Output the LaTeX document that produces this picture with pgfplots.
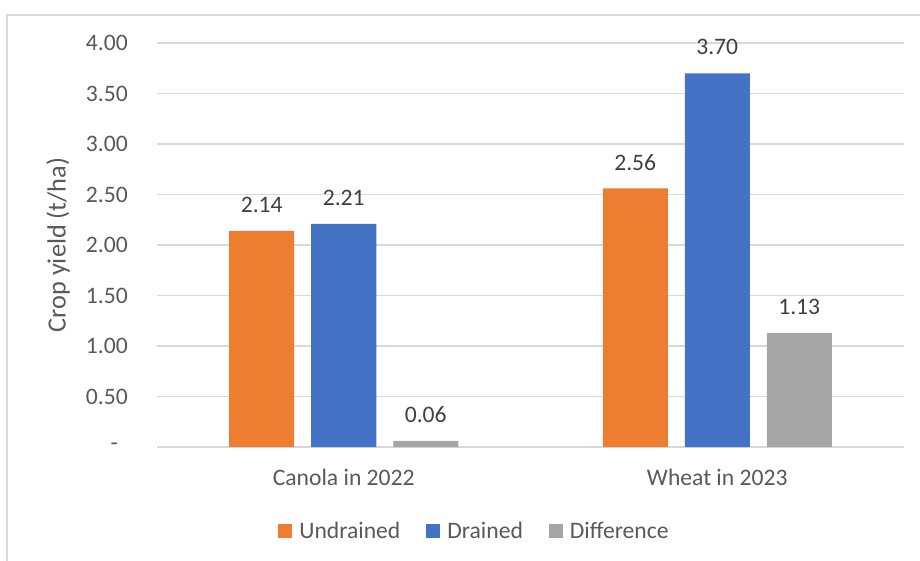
\documentclass[border=0pt]{standalone}
\usepackage{pgfplots}
\pgfplotsset{compat=1.18}
\usepackage{fontspec}
\setmainfont{Carlito}
\definecolor{orng}{HTML}{ED7D31}
\definecolor{blu}{HTML}{4472C4}
\definecolor{gry}{HTML}{A5A5A5}
\definecolor{txt}{HTML}{595959}
\definecolor{lbl}{HTML}{404040}
\definecolor{gridc}{HTML}{D9D9D9}
\newcommand{\xl}{\fontsize{23.7pt}{28pt}\selectfont}
\newcommand{\yl}{\fontsize{26.4pt}{31pt}\selectfont}
\pgfplotsset{sqleg/.style={legend image code/.code={\fill[##1] (0bp,-7bp) rectangle (14bp,7bp);}}}

\begin{document}
\begin{tikzpicture}
\path[use as bounding box] (-157bp,-114bp) rectangle (763bp,447bp);
\clip (-157bp,-114bp) rectangle (763bp,447bp);
% chart frame (right and bottom edges fall outside the crop)
\draw[gridc, line width=1.5bp] (-150bp,-140bp) rectangle (800bp,432bp);
\begin{axis}[
    at={(0,0)}, anchor=south west,
    scale only axis, width=747bp, height=404bp,
    ybar=17bp, bar width=65bp,
    xmin=-0.5, xmax=1.5, ymin=0, ymax=4,
    xtick={0,1}, xticklabels={Canola in 2022, Wheat in 2023},
    ytick={0,0.5,1,1.5,2,2.5,3,3.5,4},
    yticklabels={{-\hspace*{10bp}},0.50,1.00,1.50,2.00,2.50,3.00,3.50,4.00},
    axis line style={draw=none},
    tick style={draw=none},
    major tick length=0pt,
    ymajorgrids,
    major grid style={gridc, line width=1.4bp},
    ticklabel style={font=\xl, text=txt, inner sep=0pt},
    yticklabel style={anchor=east, xshift=-29bp},
    xticklabel style={anchor=north, yshift=-22bp},
    ylabel={Crop yield (t/ha)},
    every axis y label/.style={at={(axis description cs:-0.1325,0.5)}, rotate=90, anchor=center, font=\yl, text=txt},
    /pgf/number format/assume math mode=true,
    nodes near coords={\pgfmathprintnumber[fixed,fixed zerofill,precision=2]{\pgfplotspointmeta}},
    every node near coord/.append style={font=\xl, text=lbl, inner sep=0pt, anchor=south, yshift=18bp},
    legend columns=3,
    legend style={at={(0.425,-0.208)}, anchor=center, draw=none, fill=none, font=\xl, text=txt,
        /tikz/every odd column/.append style={column sep=5bp},
        /tikz/every even column/.append style={column sep=24bp}},
]
\addplot[fill=orng, draw=none, sqleg] coordinates {(0,2.14) (1,2.56)};
\addplot[fill=blu, draw=none, sqleg] coordinates {(0,2.21) (1,3.70)};
\addplot[fill=gry, draw=none, sqleg] coordinates {(0,0.06) (1,1.13)};
\legend{Undrained, Drained, Difference}
\end{axis}
\end{tikzpicture}
\end{document}
